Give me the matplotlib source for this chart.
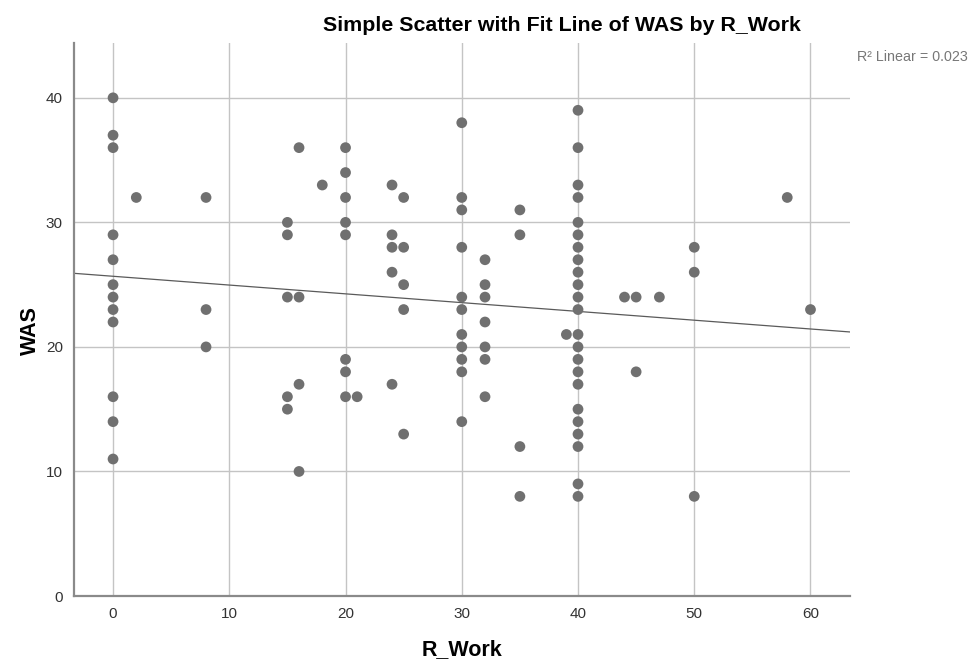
import numpy as np
import matplotlib
matplotlib.use("Agg")
import matplotlib.pyplot as plt

plt.rcParams['font.family'] = ['Liberation Sans', 'DejaVu Sans']

# R_Work (hours) and WAS score, one entry per case
r_work = [0]*12 + [2] + [8]*3 + [15]*5 + [16]*4 + [18] + [20]*8 + [21] \
    + [24]*5 + [25]*5 + [30]*11 + [32]*7 + [35]*4 + [39] + [40]*23 \
    + [44, 45, 45, 47] + [50]*3 + [58, 60]
was = [40, 37, 36, 29, 27, 25, 24, 23, 22, 16, 14, 11,
       32,
       32, 23, 20,
       30, 29, 24, 16, 15,
       36, 24, 17, 10,
       33,
       36, 34, 32, 30, 29, 19, 18, 16,
       16,
       33, 29, 28, 26, 17,
       32, 28, 25, 23, 13,
       38, 32, 31, 28, 24, 23, 21, 20, 19, 18, 14,
       27, 25, 24, 22, 20, 19, 16,
       31, 29, 12, 8,
       21,
       39, 36, 33, 32, 30, 29, 28, 27, 26, 25, 24, 23, 21, 20, 19, 18, 17,
       15, 14, 13, 12, 9, 8,
       24, 24, 18, 24,
       28, 26, 8,
       32, 23]

x = np.array(r_work)
y = np.array(was)

fig = plt.figure(figsize=(9.71, 6.64), dpi=100)
ax = fig.add_axes([0.0762, 0.1024, 0.7992, 0.8328])

ax.scatter(x, y, s=60, color='#707070', edgecolors='none', zorder=3)

# linear fit line across the whole axis
slope, intercept = np.polyfit(x, y, 1)
xlim = (-3.36, 63.4)
xs = np.array(xlim)
ax.plot(xs, intercept + slope * xs, color='#5a5a5a', lw=0.9, zorder=2)

ax.set_xlim(xlim)
ax.set_ylim(0, 44.4)
ax.set_xticks(range(0, 61, 10))
ax.set_yticks(range(0, 41, 10))
ax.grid(True, color='#c4c4c4', lw=1.0, zorder=0)
ax.tick_params(length=0, labelsize=11, labelcolor='#333333', pad=8)

for s in ['top', 'right']:
    ax.spines[s].set_visible(False)
for s in ['left', 'bottom']:
    ax.spines[s].set_color('#8a8a8a')
    ax.spines[s].set_linewidth(1.6)

ax.set_xlabel('R_Work', fontsize=15.5, fontweight='bold', va='center')
ax.set_ylabel('WAS', fontsize=15.5, fontweight='bold', va='center')
ax.xaxis.set_label_coords(0.5, -0.0976)
ax.yaxis.set_label_coords(-0.0567, 0.48)

fig.text(0.579, 0.962, 'Simple Scatter with Fit Line of WAS by R_Work',
         ha='center', va='center', fontsize=15.4, fontweight='bold')
fig.text(0.997, 0.914, 'R\u00b2 Linear = 0.023', ha='right', va='center',
         fontsize=10.3, color='#777777')

fig.savefig('out.png', dpi=100)
